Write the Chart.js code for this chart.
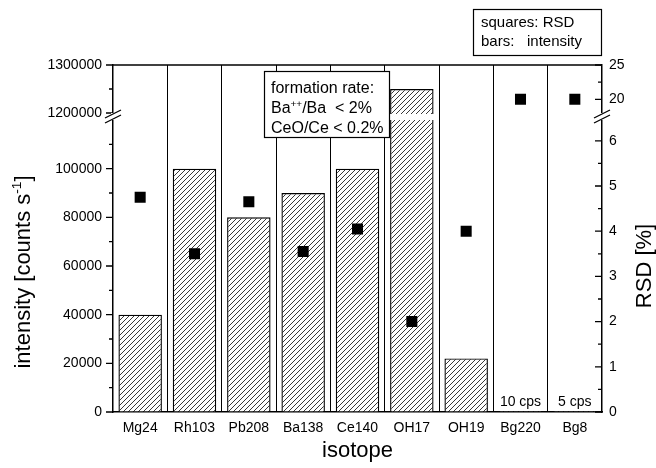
<!DOCTYPE html>
<html>
<head>
<meta charset="utf-8">
<script src="https://cdn.jsdelivr.net/npm/chart.js@4"></script>
<style>
  body { margin: 0; background: #fff; }
  #wrap { width: 656px; height: 468px; }
</style>
</head>
<body>
<div id="wrap"><canvas id="isoChart"></canvas></div>
<script>
// data
const isotopes = ["Mg24", "Rh103", "Pb208", "Ba138", "Ce140", "OH17", "OH19", "Bg220", "Bg8"];
const intensity = [40000, 100000, 80000, 90000, 100000, 1250000, 22000, 10, 5];
const rsd = [4.75, 3.5, 4.65, 3.55, 4.05, 2.0, 4.0, 20, 20];
const cpsNotes = ["", "", "", "", "", "", "", "10 cps", "5 cps"];

const leftMajor = [0, 20000, 40000, 60000, 80000, 100000, 1200000, 1300000];
const leftMinor = [10000, 30000, 50000, 70000, 90000, 110000, 1250000];
const rightMajor = [0, 1, 2, 3, 4, 5, 6, 20, 25];
const rightMinor = [0.5, 1.5, 2.5, 3.5, 4.5, 5.5, 22.5];

// broken axes: lower part + gap + upper part, in "display" units
const LOW_TOP = 292, UP_BOTTOM = 299, TOP = 347;
function leftToD(v) {
    if (v <= 120000) return v / 120000 * LOW_TOP;
    return UP_BOTTOM + (v - 1200000) / 100000 * (TOP - UP_BOTTOM);
}
function rightToD(r) {
    if (r <= 6.46) return r / 6.46 * LOW_TOP;
    return UP_BOTTOM + (r - 18) / 7 * (TOP - UP_BOTTOM);
}

const FONT = "'Liberation Sans', Arial, sans-serif";

// hatch pattern for the bars
function makeHatch() {
    const c = document.createElement("canvas");
    c.width = 5; c.height = 5;
    const g = c.getContext("2d");
    g.fillStyle = "#fff";
    g.fillRect(0, 0, 5, 5);
    g.strokeStyle = "#222";
    g.lineWidth = 0.9;
    g.beginPath();
    g.moveTo(-1, 6); g.lineTo(6, -1);
    g.moveTo(-1, 1); g.lineTo(1, -1);
    g.moveTo(4, 6); g.lineTo(6, 4);
    g.stroke();
    return g.createPattern(c, "repeat");
}

function drawBreak(ctx, x, yA, yB) {
    ctx.save();
    ctx.fillStyle = "#fff";
    ctx.fillRect(x - 2, yA, 4, yB - yA);
    ctx.strokeStyle = "#000";
    ctx.lineWidth = 1.3;
    ctx.beginPath();
    ctx.moveTo(x - 8, yA + 5); ctx.lineTo(x + 8, yA - 3);
    ctx.moveTo(x - 8, yB + 3); ctx.lineTo(x + 8, yB - 5);
    ctx.stroke();
    ctx.restore();
}

// draws parts of text, with {sup:true} pieces raised and smaller
function drawRich(ctx, parts, x, y, size, align) {
    let total = 0;
    parts.forEach(p => {
        ctx.font = (p.sup ? size * 0.62 : size) + "px " + FONT;
        p.w = ctx.measureText(p.t).width;
        total += p.w;
    });
    let cx = align === "center" ? x - total / 2 : x;
    parts.forEach(p => {
        ctx.font = (p.sup ? size * 0.62 : size) + "px " + FONT;
        ctx.fillText(p.t, cx, p.sup ? y - size * 0.4 : y);
        cx += p.w;
    });
}

const extras = {
    id: "extras",
    afterDatasetDraw(chart, args) {
        if (args.index !== 1) return;
        // white break strip across bars that go past the gap
        const ctx = chart.ctx;
        const ys = chart.scales.y;
        const yA = ys.getPixelForValue(UP_BOTTOM), yB = ys.getPixelForValue(LOW_TOP);
        ctx.save();
        ctx.fillStyle = "#fff";
        args.meta.data.forEach(bar => {
            if (bar.y < yA) ctx.fillRect(bar.x - bar.width / 2 - 1, yA + 1, bar.width + 2, yB - yA - 1);
        });
        ctx.restore();
    },
    afterDraw(chart) {
        const ctx = chart.ctx;
        const area = chart.chartArea;
        const ys = chart.scales.y, yr = chart.scales.y1, xs = chart.scales.x;
        ctx.save();
        ctx.strokeStyle = "#000";
        ctx.fillStyle = "#000";

        // top frame line
        ctx.lineWidth = 1.5;
        ctx.beginPath();
        ctx.moveTo(area.left, area.top); ctx.lineTo(area.right, area.top);
        ctx.stroke();

        // tick marks
        ctx.lineWidth = 1.3;
        ctx.beginPath();
        leftMajor.forEach(v => { const y = ys.getPixelForValue(leftToD(v)); ctx.moveTo(area.left - 7, y); ctx.lineTo(area.left, y); });
        leftMinor.forEach(v => { const y = ys.getPixelForValue(leftToD(v)); ctx.moveTo(area.left - 4, y); ctx.lineTo(area.left, y); });
        rightMajor.forEach(r => { const y = yr.getPixelForValue(rightToD(r)); ctx.moveTo(area.right - 7, y); ctx.lineTo(area.right, y); });
        rightMinor.forEach(r => { const y = yr.getPixelForValue(rightToD(r)); ctx.moveTo(area.right - 4, y); ctx.lineTo(area.right, y); });
        ctx.stroke();

        // axis breaks
        const yA = ys.getPixelForValue(UP_BOTTOM), yB = ys.getPixelForValue(LOW_TOP);
        drawBreak(ctx, area.left, yA, yB);
        drawBreak(ctx, area.right, yA, yB);

        // cps notes for the background channels
        ctx.font = "14px " + FONT;
        ctx.textAlign = "center";
        ctx.textBaseline = "alphabetic";
        cpsNotes.forEach((t, i) => { if (t) ctx.fillText(t, xs.getPixelForValue(i), area.bottom - 6); });

        // formation rate box
        ctx.fillStyle = "#fff";
        ctx.fillRect(264, 71, 125, 66);
        ctx.lineWidth = 1.2;
        ctx.strokeRect(264.5, 71.5, 125, 66);
        ctx.fillStyle = "#000";
        ctx.textAlign = "left";
        ctx.font = "16px " + FONT;
        ctx.fillText("formation rate:", 271, 93);
        drawRich(ctx, [{ t: "Ba" }, { t: "++", sup: true }, { t: "/Ba  < 2%" }], 271, 113, 16, "left");
        ctx.font = "16px " + FONT;
        ctx.fillText("CeO/Ce < 0.2%", 271, 133);

        // legend box
        ctx.lineWidth = 1.2;
        ctx.strokeRect(473.5, 9.5, 128, 46);
        ctx.font = "15px " + FONT;
        ctx.fillText("squares: RSD", 481, 27);
        ctx.fillText("bars:", 481, 46);
        ctx.fillText("intensity", 527, 46);

        // axis titles
        ctx.save();
        ctx.translate(30, 272);
        ctx.rotate(-Math.PI / 2);
        drawRich(ctx, [{ t: "intensity [counts s" }, { t: "-1", sup: true }, { t: "]" }], 0, 0, 22, "center");
        ctx.restore();

        ctx.save();
        ctx.translate(645, 266);
        ctx.rotate(-Math.PI / 2);
        ctx.textAlign = "center";
        ctx.textBaseline = "middle";
        ctx.font = "22px " + FONT;
        ctx.fillText("RSD [%]", 0, 0);
        ctx.restore();

        ctx.textAlign = "center";
        ctx.textBaseline = "middle";
        ctx.font = "22px " + FONT;
        ctx.fillText("isotope", (area.left + area.right) / 2, 451);
        ctx.restore();
    }
};

const ctx = document.getElementById("isoChart").getContext("2d");
new Chart(ctx, {
    type: "bar",
    data: {
        labels: isotopes,
        datasets: [
            {
                type: "line",
                label: "RSD",
                data: rsd.map(rightToD),
                yAxisID: "y1",
                showLine: false,
                pointStyle: "rect",
                pointRadius: 7.8,
                pointBackgroundColor: "#000",
                pointBorderWidth: 0,
            },
            {
                label: "intensity",
                data: intensity.map(leftToD),
                yAxisID: "y",
                backgroundColor: makeHatch(),
                borderColor: "#000",
                borderWidth: 1.4,
                barPercentage: 0.8,
                categoryPercentage: 1,
            },
        ],
    },
    options: {
        responsive: true,
        maintainAspectRatio: false,
        animation: false,
        layout: { padding: { top: 65 } },
        plugins: {
            legend: { display: false },
            tooltip: { enabled: false },
        },
        scales: {
            x: {
                offset: true,
                grid: { offset: true, color: "#000", lineWidth: 1, drawTicks: false },
                border: { color: "#000", width: 1.5 },
                ticks: { color: "#000", font: { family: FONT, size: 14 }, padding: 8, maxRotation: 0 },
                afterFit: s => { s.height = 56; },
            },
            y: {
                position: "left",
                min: 0,
                max: TOP,
                afterBuildTicks: s => { s.ticks = leftMajor.map(v => ({ value: leftToD(v) })); },
                ticks: {
                    color: "#000",
                    font: { family: FONT, size: 14 },
                    padding: 11,
                    callback: (val, i) => String(leftMajor[i]),
                },
                grid: { drawOnChartArea: false, drawTicks: false },
                border: { color: "#000", width: 1.5 },
                afterFit: s => { s.width = 113; },
            },
            y1: {
                position: "right",
                min: 0,
                max: TOP,
                afterBuildTicks: s => { s.ticks = rightMajor.map(r => ({ value: rightToD(r) })); },
                ticks: {
                    color: "#000",
                    font: { family: FONT, size: 14 },
                    padding: 7,
                    callback: (val, i) => String(rightMajor[i]),
                },
                grid: { drawOnChartArea: false, drawTicks: false },
                border: { color: "#000", width: 1.5 },
                afterFit: s => { s.width = 54; },
            },
        },
    },
    plugins: [extras],
});
</script>
</body>
</html>
